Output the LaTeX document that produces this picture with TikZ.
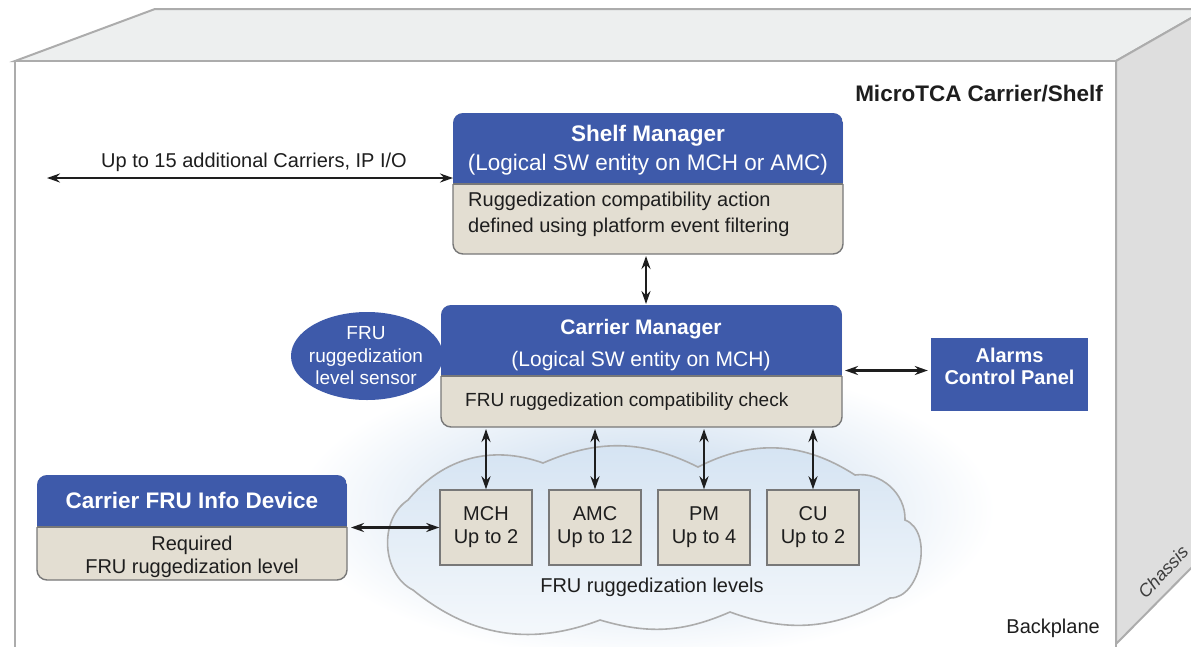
\documentclass[tikz,border=0pt]{standalone}
\usepackage{fontspec}
\setmainfont{Liberation Sans}
\usetikzlibrary{arrows.meta,shapes.geometric,fit}
\definecolor{mblue}{RGB}{62,90,170}
\definecolor{beige}{RGB}{227,222,210}
\definecolor{edgegray}{RGB}{120,120,120}
\definecolor{chgray}{RGB}{172,172,172}
\definecolor{topface}{RGB}{237,239,239}
\definecolor{sideface}{RGB}{222,222,222}
\definecolor{glow}{RGB}{192,213,235}
\definecolor{cloudtop}{RGB}{212,227,242}
\definecolor{cloudbot}{RGB}{246,249,252}
\definecolor{ink}{RGB}{30,30,30}
\newcommand\mgrbox[6]{%
  \node[fit={(#2,#3) (#4,#5)}, inner sep=0pt, outer sep=0pt] (#1) {};
  \fill[beige, rounded corners=10pt] (#2,#3) rectangle (#4,#5);
  \begin{scope}
    \clip[rounded corners=10pt] (#2,#3) rectangle (#4,#5);
    \fill[mblue] (#2,#3) rectangle (#4,#6);
  \end{scope}
  \begin{scope}
    \clip (#2-5,#6) rectangle (#4+5,#5+5);
    \draw[edgegray, line width=1.4pt, rounded corners=10pt] (#2,#3) rectangle (#4,#5);
  \end{scope}
  \draw[edgegray, line width=1.4pt] (#2,#6) -- (#4,#6);
}
\begin{document}
\begin{tikzpicture}[x=1pt,y=-1pt,
  arr/.style={{Stealth[length=13pt,width=9pt]}-{Stealth[length=13pt,width=9pt]}, line width=2.6pt, draw=ink},
  wt/.style={text=white, inner sep=0pt},
  bt/.style={text=ink, inner sep=0pt},
  f19/.style={font=\fontsize{19}{23}\selectfont},
  f20/.style={font=\fontsize{20}{23.5}\selectfont},
  f21/.style={font=\fontsize{21}{25}\selectfont},
  f22/.style={font=\fontsize{22.5}{27}\selectfont},
  b20/.style={font=\fontsize{20}{23}\selectfont\bfseries},
  b21/.style={font=\fontsize{21}{25}\selectfont\bfseries},
  b22/.style={font=\fontsize{22.5}{27}\selectfont\bfseries},
  frubox/.style={draw=edgegray, line width=1.4pt, fill=beige, minimum width=92pt, minimum height=75pt, inner sep=0pt, align=center, text=ink, font=\fontsize{20}{23}\selectfont},
  chassisline/.style={draw=chgray, line width=2pt}
]
\useasboundingbox (0,0) rectangle (1191,646);

% chassis
\begin{scope}
  \clip (0,0) rectangle (1191,646);
  \filldraw[chassisline, fill=topface] (15,61) -- (155,9) -- (1207,9) -- (1116,61) -- cycle;
  \filldraw[chassisline, fill=sideface] (1116,61) -- (1207,9) -- (1207,552) -- (1116,644) -- cycle;
  \filldraw[chassisline, fill=white] (15,61) rectangle (1116,700);
\end{scope}

% glow and cloud
\shade[inner color=glow, outer color=white] (645,510) ellipse [x radius=350, y radius=150];
\draw[draw=chgray, line width=1.6pt, top color=cloudtop, bottom color=cloudbot]
  (408,500) to[bend left=35] (543,463) to[bend left=25] (698,467) to[bend left=30] (855,475)
  to[bend left=50] (905,520) to[bend left=80] (890,598) to[bend left=25] (730,612)
  to[bend left=20] (600,620) to[bend left=30] (413,590) to[bend left=60] (408,500) -- cycle;

% labels on chassis
\node[bt, b22, anchor=base east] (shelf) at (1103,101) {MicroTCA Carrier/Shelf};
\node[bt, f20, anchor=base east] (bp) at (1100,633) {Backplane};
\node[text={rgb,255:red,60;green,60;blue,60}, inner sep=0pt, rotate=47, font=\fontsize{18}{20}\selectfont\itshape] (chs) at (1163,572) {Chassis};

% sensor ellipse
\node[ellipse, fill=mblue, minimum width=152pt, minimum height=88pt, inner sep=0pt] (sens) at (367,356) {};
\node[wt, f19, anchor=base] (s1) at (366,339) {FRU};
\node[wt, f19, anchor=base] (s2) at (366,362) {ruggedization};
\node[wt, f19, anchor=base] (s3) at (366,384) {level sensor};

% Shelf Manager
\mgrbox{sm}{453}{113}{843}{254}{184}
\node[wt, b22, anchor=base] (smt) at (648,141) {Shelf Manager};
\node[wt, f22, anchor=base] (sms) at (648,170) {(Logical SW entity on MCH or AMC)};
\node[bt, f20, anchor=base west] (smb1) at (468,206) {Ruggedization compatibility action};
\node[bt, f20, anchor=base west] (smb2) at (468,232) {defined using platform event filtering};

% Carrier Manager
\mgrbox{cm}{441}{305}{842}{427}{376}
\node[wt, b21, anchor=base] (cmt) at (641,334) {Carrier Manager};
\node[wt, f21, anchor=base] (cms) at (641,366) {(Logical SW entity on MCH)};
\node[bt, f19, anchor=base west] (cmb) at (465,406) {FRU ruggedization compatibility check};

% Alarms Control Panel
\node[fill=mblue, minimum width=157pt, minimum height=73pt, inner sep=0pt] (acp) at (1009.5,374.5) {};
\node[wt, b20, anchor=base] (acp1) at (1009.5,362) {Alarms};
\node[wt, b20, anchor=base] (acp2) at (1009.5,384) {Control Panel};

% Carrier FRU Info Device
\mgrbox{cf}{37}{475}{347}{580}{527}
\node[wt, b22, anchor=base] (cft) at (192,508) {Carrier FRU Info Device};
\node[bt, f20, anchor=base] (cfb1) at (192,550) {Required};
\node[bt, f20, anchor=base] (cfb2) at (192,573) {FRU ruggedization level};

% FRU boxes
\node[frubox] (mch) at (486,527.5) {MCH\\Up to 2};
\node[frubox] (amc) at (595,527.5) {AMC\\Up to 12};
\node[frubox] (pm) at (704,527.5) {PM\\Up to 4};
\node[frubox] (cu) at (813,527.5) {CU\\Up to 2};
\node[bt, f20, anchor=base] (lev) at (652,592) {FRU ruggedization levels};

% external carriers
\coordinate (ext) at (47,178);
\node[bt, f20, anchor=base] (extl) at (254,167) {Up to 15 additional Carriers, IP I/O};

% connectors
\coordinate (ax) at (646,0);
\draw[arr] (ext) -- (ext -| sm.west);
\draw[arr] ([yshift=-2pt]sm.south -| ax) -- ([yshift=1pt]cm.north -| ax);
\draw[arr] ([xshift=3pt,yshift=4pt]cm.east |- acp.west) -- ([xshift=-3pt,yshift=4pt]acp.west);
\draw[arr] ([yshift=-2pt]mch.north |- cm.south) -- (mch.north);
\draw[arr] ([yshift=-2pt]amc.north |- cm.south) -- (amc.north);
\draw[arr] ([yshift=-2pt]pm.north |- cm.south) -- (pm.north);
\draw[arr] ([yshift=-2pt]cu.north |- cm.south) -- (cu.north);
\draw[arr] ([xshift=4pt]cf.east |- mch.west) -- (mch.west);
\end{tikzpicture}
\end{document}
